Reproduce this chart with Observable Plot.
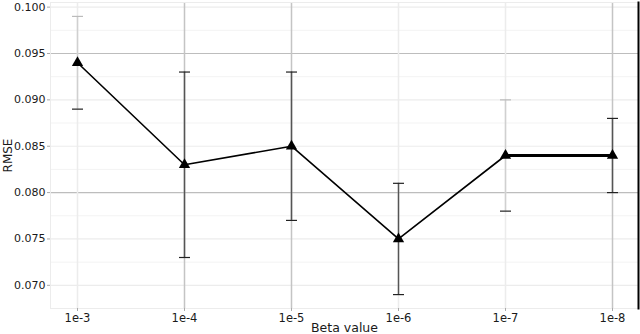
<!DOCTYPE html>
<html>
<head>
<meta charset="utf-8">
<script src="https://cdn.jsdelivr.net/npm/d3@7"></script>
<script src="https://cdn.jsdelivr.net/npm/@observablehq/plot@0.6"></script>
<style>
  html, body { margin: 0; padding: 0; background: #fff; }
  #chart svg { font-family: "DejaVu Sans", sans-serif; display: block; }
</style>
</head>
<body>
<div id="chart"></div>
<script>
const betas = ["1e-3", "1e-4", "1e-5", "1e-6", "1e-7", "1e-8"];
const rmse  = [0.094, 0.083, 0.085, 0.075, 0.084, 0.084];
const lower = [0.089, 0.073, 0.077, 0.069, 0.078, 0.080];
const upper = [0.099, 0.093, 0.093, 0.081, 0.090, 0.088];
const yTicks = [0.070, 0.075, 0.080, 0.085, 0.090, 0.095, 0.100];
const yMinor = [0.0725, 0.0775, 0.0825, 0.0875, 0.0925, 0.0975];

const data = betas.map((b, i) => ({beta: b, rmse: rmse[i], lo: lower[i], hi: upper[i]}));

// styling config (not data)
const darkGridY = new Set([0.095, 0.080]);
const darkGridX = new Set(["1e-4", "1e-5", "1e-8"]);
const faintBars = new Set(["1e-3", "1e-7"]);

const cap = { draw(ctx, size) { const r = 5.5; ctx.moveTo(-r, 0); ctx.lineTo(r, 0); } };

const chart = Plot.plot({
  width: 640,
  height: 334,
  marginLeft: 50,
  marginRight: 2,
  marginTop: 2,
  marginBottom: 26,
  style: {fontFamily: "DejaVu Sans, sans-serif", fontSize: "11px", color: "#1a1a1a", background: "#fff"},
  x: {type: "point", domain: betas, padding: 0.243, label: null},
  y: {domain: [0.0675, 0.1005], label: null},
  marks: [
    Plot.ruleY(yMinor, {stroke: "#f3f3f3", strokeWidth: 1}),
    Plot.ruleY(yTicks, {stroke: d => darkGridY.has(d) ? "#bdbdbd" : "#ececec", strokeWidth: 1.2}),
    Plot.ruleX(betas, {stroke: d => darkGridX.has(d) ? "#c4c4c4" : "#ececec", strokeWidth: 1.5}),
    Plot.frame({stroke: "#ececec"}),
    Plot.ruleX(data, {x: "beta", y1: "lo", y2: "hi", stroke: d => faintBars.has(d.beta) ? "#d0d0d0" : "#555", strokeWidth: 1.5}),
    Plot.dot(data, {x: "beta", y: "hi", symbol: cap, stroke: d => faintBars.has(d.beta) ? "#bbb" : "#222", strokeWidth: 1.2, r: 5}),
    Plot.dot(data, {x: "beta", y: "lo", symbol: cap, stroke: "#222", strokeWidth: 1.2, r: 5}),
    Plot.line(data, {x: "beta", y: "rmse", stroke: "#000", strokeWidth: 1.6}),
    Plot.line(data.slice(4), {x: "beta", y: "rmse", stroke: "#000", strokeWidth: 3}),
    Plot.dot(data, {x: "beta", y: "rmse", symbol: "triangle", fill: "#000", r: 4.2}),
    Plot.axisY({ticks: yTicks, tickFormat: d3.format(".3f"), tickSize: 3, tickPadding: 2, stroke: "#aaa", fontSize: 11, label: null}),
    Plot.axisY({ticks: [], label: "RMSE", labelAnchor: "center", labelArrow: "none", labelOffset: 47, fontSize: 12}),
    Plot.axisX({tickSize: 3, tickPadding: 2, stroke: "#aaa", fontSize: 11.5, label: null}),
    Plot.axisX({ticks: [], label: "Beta value", labelAnchor: "center", labelArrow: "none", labelOffset: 23, fontSize: 12.5}),
    Plot.frame({anchor: "right", stroke: "#000", strokeWidth: 2})
  ]
});
document.getElementById("chart").appendChild(chart);
</script>
</body>
</html>
